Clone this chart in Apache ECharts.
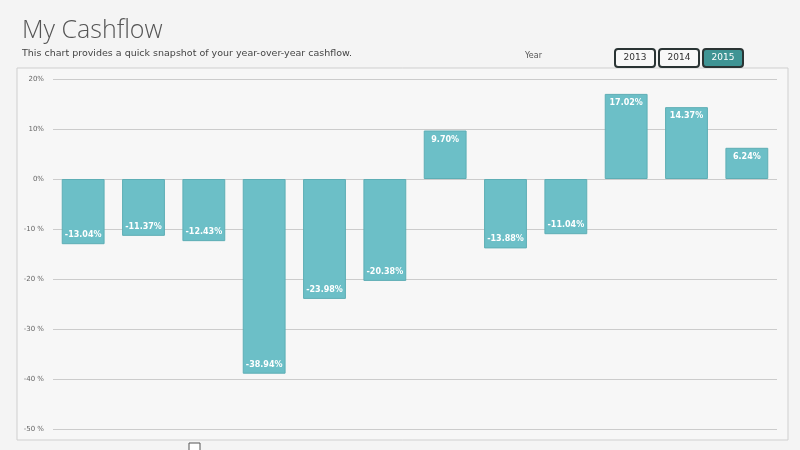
<!DOCTYPE html>
<html><head><meta charset="utf-8">
<script src="https://cdn.jsdelivr.net/npm/echarts@6/dist/echarts.min.js"></script>
<style>html,body{margin:0;padding:0;background:#f4f4f4;}#c{width:800px;height:450px;}</style>
</head><body><div id="c"></div>
<script>
const categories = ['M1','M2','M3','M4','M5','M6','M7','M8','M9','M10','M11','M12'];
const cashflow = [-13.04, -11.37, -12.43, -38.94, -23.98, -20.38, 9.70, -13.88, -11.04, 17.02, 14.37, 6.24];
const yearButtons = ['2013', '2014', '2015'];
const selectedYear = '2015';

const chart = echarts.init(document.getElementById('c'), null, {renderer: 'canvas'});
const btnGraphics = yearButtons.map((y, i) => {
  const sel = y === selectedYear;
  return {
    type: 'group', left: 614 + i * 44, top: 48,
    children: [
      {type: 'rect', shape: {x: 0, y: 0, width: 40, height: 18, r: 3},
       style: {fill: sel ? '#3f9494' : '#f8f8f8', stroke: '#2a3434', lineWidth: 2}},
      {type: 'text', style: {x: 20, y: 9, text: y, fill: sel ? '#ffffff' : '#333', font: '9px "DejaVu Sans"', align: 'center', verticalAlign: 'middle'}}
    ]
  };
});
chart.setOption({
  backgroundColor: '#f4f4f4',
  animation: false,
  title: {
    text: 'My Cashflow', left: 17, top: 13,
    textStyle: {fontFamily: '"Open Sans"', fontWeight: 300, fontSize: 25, color: '#555'},
    subtext: 'This chart provides a quick snapshot of your year-over-year cashflow.',
    subtextStyle: {fontFamily: '"DejaVu Sans"', fontSize: 9.5, color: '#444'},
    itemGap: 6
  },
  graphic: [
    {type: 'rect', shape: {x: 17, y: 68, width: 771, height: 372}, style: {fill: '#f7f7f7', stroke: '#cfcfcf', lineWidth: 1}, z: -1},
    {type: 'text', left: 525, top: 52, style: {text: 'Year', fill: '#555', font: '8px "DejaVu Sans"'}},
    {type: 'rect', shape: {x: 189, y: 443, width: 11, height: 9}, style: {fill: '#fff', stroke: '#555', lineWidth: 1}}
  ].concat(btnGraphics),
  grid: {left: 53, right: 23, top: 79, bottom: 21},
  xAxis: {
    type: 'category', data: categories,
    axisLine: {show: false}, axisTick: {show: false}, axisLabel: {show: false}
  },
  yAxis: {
    type: 'value', min: -50, max: 20, interval: 10,
    axisLine: {show: false}, axisTick: {show: false},
    axisLabel: {margin: 9, color: '#666', fontSize: 7, fontFamily: '"DejaVu Sans"',
      formatter: v => v < 0 ? v + ' %' : v + '%'},
    splitLine: {lineStyle: {color: '#cccccc', width: 1}}
  },
  series: [{
    type: 'bar', barWidth: '71%',
    data: cashflow.map(v => ({value: v, label: {position: v < 0 ? 'insideBottom' : 'insideTop'}})),
    itemStyle: {color: '#6cbfc7', borderColor: '#5eaeb5', borderWidth: 1},
    label: {show: true, color: '#ffffff', fontWeight: 'bold', fontSize: 8, fontFamily: '"DejaVu Sans"',
      distance: 5, formatter: p => p.value.toFixed(2) + '%'}
  }]
});
</script></body></html>
